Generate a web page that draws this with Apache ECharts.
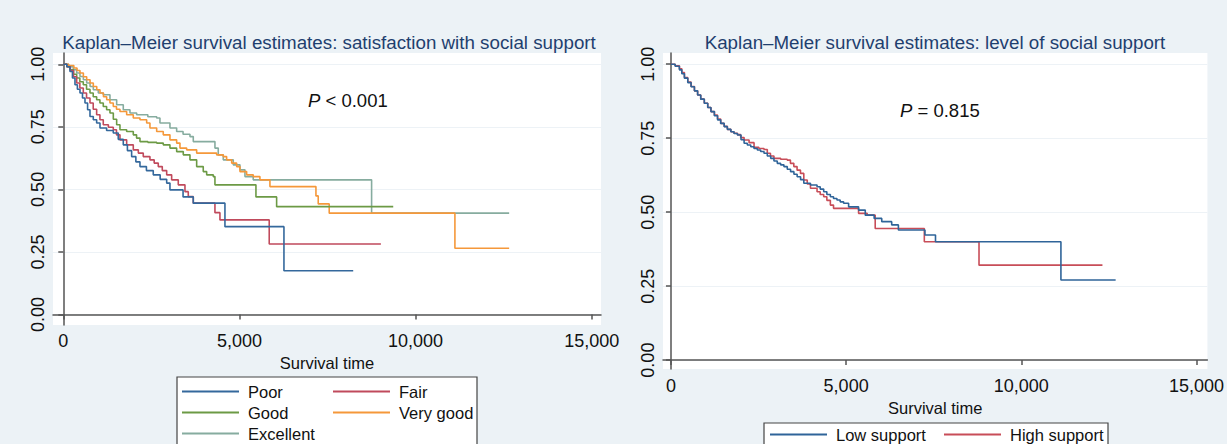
<!DOCTYPE html>
<html>
<head>
<meta charset="utf-8">
<script src="https://cdn.jsdelivr.net/npm/echarts@6/dist/echarts.min.js"></script>
<style>
html,body{margin:0;padding:0;background:#ecf2f6;}
#c{width:1227px;height:444px;}
</style>
</head>
<body>
<div id="c"></div>
<script>
// ---- Left panel: satisfaction with social support ----
const poorT = [0,100,190,260,332,400,474,545,616,690,758,852,947,1042,1230,1419,1560,1703,1820,1940,2060,2177,2360,2554,2750,2935,3028,3400,3690,4589,6264,8230];
const poorS = [1,0.99,0.971,0.945,0.918,0.90,0.885,0.865,0.845,0.818,0.791,0.778,0.765,0.745,0.735,0.725,0.70,0.678,0.655,0.631,0.61,0.591,0.575,0.558,0.54,0.525,0.498,0.47,0.445,0.351,0.175,0.175];

const fairT = [0,100,200,290,380,470,568,660,758,850,947,1040,1135,1280,1419,1510,1609,1799,1987,2130,2270,2460,2580,2696,2810,2935,3076,3264,3454,3548,3690,4305,4447,5846,9016];
const fairS = [1,0.99,0.975,0.95,0.925,0.905,0.885,0.865,0.845,0.82,0.798,0.778,0.758,0.748,0.738,0.718,0.698,0.678,0.658,0.645,0.631,0.618,0.605,0.591,0.575,0.558,0.538,0.518,0.491,0.471,0.445,0.407,0.378,0.282,0.282];

const goodT = [0,100,190,290,380,470,568,660,758,850,947,1040,1135,1230,1325,1420,1515,1609,1799,1987,2080,2177,2400,2651,2838,3028,3218,3406,3596,3786,3973,4070,4257,4305,5469,6056,9366];
const goodS = [1,0.99,0.978,0.96,0.945,0.93,0.918,0.90,0.885,0.87,0.858,0.845,0.831,0.818,0.805,0.78,0.758,0.738,0.731,0.718,0.705,0.691,0.688,0.685,0.678,0.665,0.651,0.638,0.618,0.591,0.571,0.558,0.551,0.518,0.47,0.431,0.431];

const vgoodT = [0,150,300,390,474,570,664,760,852,950,1042,1140,1232,1325,1419,1510,1609,1799,1987,2177,2367,2460,2651,2838,3028,3218,3312,3502,3786,4353,4541,4637,4780,4921,5015,5205,5392,5582,5866,7172,7237,7549,11117,12657];
const vgoodS = [1,0.995,0.985,0.975,0.965,0.95,0.938,0.925,0.911,0.898,0.885,0.87,0.858,0.845,0.831,0.82,0.811,0.798,0.785,0.778,0.765,0.745,0.731,0.718,0.698,0.685,0.665,0.658,0.645,0.638,0.631,0.618,0.605,0.591,0.571,0.558,0.551,0.538,0.511,0.474,0.442,0.405,0.265,0.265];

const excT = [0,150,284,380,474,570,664,760,852,994,1135,1325,1515,1703,1893,2083,2400,2651,2744,3028,3218,3400,3596,3690,4305,4399,4541,4825,5015,5157,5392,8752,12657];
const excS = [1,0.99,0.978,0.965,0.951,0.938,0.925,0.911,0.898,0.885,0.878,0.858,0.838,0.818,0.805,0.798,0.79,0.785,0.765,0.745,0.731,0.72,0.711,0.691,0.665,0.638,0.618,0.598,0.578,0.551,0.538,0.405,0.405];

// ---- Right panel: level of social support ----
const lowT = [0,120,241,310,384,480,574,670,761,850,952,1050,1141,1240,1330,1420,1520,1610,1710,1800,1898,2000,2088,2180,2278,2370,2466,2560,2656,2750,2846,2940,3034,3130,3224,3320,3414,3510,3602,3700,3792,3982,4170,4260,4360,4450,4550,4640,4738,4830,4928,5071,5355,5546,5800,6017,6301,6492,7250,7551,11131,12693];
const lowS = [1,0.993,0.981,0.968,0.953,0.938,0.924,0.91,0.896,0.882,0.868,0.854,0.84,0.826,0.812,0.80,0.789,0.78,0.772,0.766,0.761,0.745,0.733,0.727,0.721,0.715,0.71,0.705,0.699,0.69,0.682,0.673,0.665,0.66,0.654,0.645,0.637,0.628,0.62,0.61,0.598,0.592,0.586,0.578,0.569,0.56,0.552,0.546,0.541,0.535,0.53,0.518,0.507,0.49,0.479,0.468,0.457,0.44,0.423,0.40,0.271,0.271];

const highT = [0,120,241,310,384,480,574,670,761,850,952,1050,1141,1240,1330,1420,1520,1610,1710,1800,1898,1990,2088,2230,2372,2510,2656,2750,2840,2940,3130,3318,3410,3507,3600,3697,3792,3890,3982,4170,4260,4360,4450,4550,4640,5355,5600,5830,7232,8793,12316];
const highS = [1,0.995,0.985,0.972,0.955,0.94,0.925,0.91,0.896,0.882,0.868,0.854,0.84,0.828,0.815,0.80,0.79,0.78,0.772,0.767,0.762,0.752,0.744,0.735,0.719,0.715,0.712,0.699,0.69,0.682,0.679,0.676,0.665,0.654,0.642,0.631,0.609,0.595,0.581,0.569,0.56,0.552,0.54,0.524,0.513,0.496,0.49,0.445,0.40,0.321,0.321];

const leftNames = ['Poor','Fair','Good','Very good','Excellent'];
const rightNames = ['Low support','High support'];
const xTicks = [0,5000,10000,15000];
const yTicks = [0,0.25,0.5,0.75,1];
const leftTitle = 'Kaplan\u2013Meier survival estimates: satisfaction with social support';
const rightTitle = 'Kaplan\u2013Meier survival estimates: level of social support';
const leftP = '< 0.001';
const rightP = '= 0.815';

const FONT = '"Liberation Sans", Arial, sans-serif';
const zip = (t, s) => t.map((v, i) => [v, s[i]]);

const leftColors = ['#34689c','#c04a5c','#6c9a45','#f5983a','#86ac9f'];
const rightColors = ['#2f6499','#c84d58'];

function xAxis(gi, min, max, gap, margin) {
  return {
    type: 'value', gridIndex: gi, min: min, max: max,
    name: 'Survival time', nameLocation: 'middle', nameGap: gap,
    nameTextStyle: {fontFamily: FONT, fontSize: 16.5, color: '#111'},
    axisLine: {show: true, lineStyle: {color: '#555', width: 1.5}},
    axisTick: {show: true, length: 5, lineStyle: {color: '#555', width: 1.5}, customValues: xTicks},
    axisLabel: {fontFamily: FONT, fontSize: 18, color: '#111', margin: margin, customValues: xTicks,
      formatter: v => Number(v).toLocaleString('en-US')},
    splitLine: {show: false}
  };
}
function yAxis(gi, min, max) {
  return {
    type: 'value', gridIndex: gi, min: min, max: max,
    axisLine: {show: true, lineStyle: {color: '#555', width: 1.5}},
    axisTick: {show: true, length: 5, lineStyle: {color: '#555', width: 1.5}, customValues: yTicks},
    axisLabel: {fontFamily: FONT, fontSize: 18, color: '#111', margin: 6, rotate: 90, customValues: yTicks,
      formatter: v => Number(v).toFixed(2)},
    splitLine: {show: true, lineStyle: {color: '#edf2f6', width: 1}}
  };
}

const leftData = [zip(poorT,poorS), zip(fairT,fairS), zip(goodT,goodS), zip(vgoodT,vgoodS), zip(excT,excS)];
const rightData = [zip(lowT,lowS), zip(highT,highS)];

const series = [];
leftNames.forEach((n, i) => series.push({
  name: n, type: 'line', step: 'end', xAxisIndex: 0, yAxisIndex: 0, data: leftData[i],
  symbol: 'none', lineStyle: {color: leftColors[i], width: 1.6}, itemStyle: {color: leftColors[i]},
  z: 10 - i, silent: true
}));
rightNames.forEach((n, i) => series.push({
  name: n, type: 'line', step: 'end', xAxisIndex: 1, yAxisIndex: 1, data: rightData[i],
  symbol: 'none', lineStyle: {color: rightColors[i], width: 1.6}, itemStyle: {color: rightColors[i]},
  z: 10 - i, silent: true
}));

function legend(name, left, top) {
  return {
    data: [name], left: left, top: top, orient: 'horizontal', padding: 0,
    icon: 'rect', itemWidth: 57, itemHeight: 2, selectedMode: false,
    textStyle: {fontFamily: FONT, fontSize: 16.5, color: '#111', padding: [0,0,0,4]}
  };
}

const chart = echarts.init(document.getElementById('c'), null, {renderer: 'svg', width: 1227, height: 444});
chart.setOption({
  backgroundColor: '#ecf2f6',
  animation: false,
  grid: [
    {left: 53, top: 53, width: 548, height: 272, show: true, backgroundColor: '#ffffff', borderWidth: 0},
    {left: 663, top: 53, width: 547, height: 316, show: true, backgroundColor: '#ffffff', borderWidth: 0}
  ],
  xAxis: [xAxis(0, -292, 15264, 22, 7), xAxis(1, -227, 15312, 28, 8)],
  yAxis: [yAxis(0, -0.042, 1.045), yAxis(1, -0.030, 1.038)],
  legend: [
    legend(leftNames[0], 182, 383),
    legend(leftNames[1], 333, 383),
    legend(leftNames[2], 182, 404),
    legend(leftNames[3], 333, 404),
    legend(leftNames[4], 182, 425),
    legend(rightNames[0], 770, 426),
    legend(rightNames[1], 944, 426)
  ],
  graphic: [
    {type: 'rect', z: -1, shape: {x: 177, y: 377, width: 300, height: 80}, style: {fill: '#fff', stroke: '#444', lineWidth: 1.2}},
    {type: 'rect', z: -1, shape: {x: 764, y: 423, width: 344, height: 40}, style: {fill: '#fff', stroke: '#444', lineWidth: 1.2}},
    {type: 'text', x: 329, y: 42, style: {text: leftTitle, fontFamily: FONT, fontSize: 18.75, fill: '#1f3f6f', textAlign: 'center', textVerticalAlign: 'middle'}},
    {type: 'text', x: 935, y: 42, style: {text: rightTitle, fontFamily: FONT, fontSize: 18.75, fill: '#1f3f6f', textAlign: 'center', textVerticalAlign: 'middle'}},
    {type: 'text', x: 308, y: 100, style: {text: '{i|P} ' + leftP, fontFamily: FONT, fontSize: 18.5, fill: '#111', textVerticalAlign: 'middle',
      rich: {i: {fontStyle: 'italic', fontFamily: FONT, fontSize: 18.5, fill: '#111'}}}},
    {type: 'text', x: 900, y: 110, style: {text: '{i|P} ' + rightP, fontFamily: FONT, fontSize: 18.5, fill: '#111', textVerticalAlign: 'middle',
      rich: {i: {fontStyle: 'italic', fontFamily: FONT, fontSize: 18.5, fill: '#111'}}}}
  ],
  series: series
});
</script>
</body>
</html>
